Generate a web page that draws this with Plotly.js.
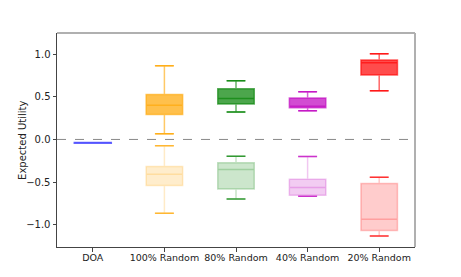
<!DOCTYPE html>
<html>
<head>
<meta charset="utf-8">
<script src="https://cdn.plot.ly/plotly-3.0.1.min.js"></script>
<style>html,body{margin:0;padding:0;background:#fff;}#chart{width:461px;height:277px;}</style>
</head>
<body>
<div id="chart"></div>
<script>
// ---- data ----
const categories = ["DOA", "100% Random", "80% Random", "40% Random", "20% Random"];
const doaStats = {lower: -0.042, q1: -0.041, median: -0.04, q3: -0.039, upper: -0.038};
const groups = ["100% Random", "80% Random", "40% Random", "20% Random"];
const colorsRGB = ["255,165,0", "0,128,0", "191,0,191", "255,0,0"];
// positive (upper) boxes
const posLower  = [0.066, 0.32, 0.335, 0.57];
const posQ1     = [0.293, 0.414, 0.37, 0.754];
const posMedian = [0.40, 0.48, 0.39, 0.898];
const posQ3     = [0.527, 0.593, 0.484, 0.93];
const posUpper  = [0.863, 0.687, 0.558, 1.003];
// negative (lower) boxes
const negLower  = [-0.864, -0.696, -0.665, -1.13];
const negQ1     = [-0.54, -0.579, -0.653, -1.067];
const negMedian = [-0.407, -0.352, -0.563, -0.934];
const negQ3     = [-0.317, -0.274, -0.465, -0.516];
const negUpper  = [-0.075, -0.196, -0.2, -0.442];
const refLine = 0;

const traces = [];
traces.push({
  type: "box", x: [categories[0]],
  lowerfence: [doaStats.lower], q1: [doaStats.q1], median: [doaStats.median],
  q3: [doaStats.q3], upperfence: [doaStats.upper],
  fillcolor: "rgba(0,0,255,0.7)", line: {color: "rgba(0,0,255,0.6)", width: 2},
  width: 0.51, whiskerwidth: 0.5, boxpoints: false
});
groups.forEach((g, i) => {
  traces.push({
    type: "box", x: [g],
    lowerfence: [posLower[i]], q1: [posQ1[i]], median: [posMedian[i]],
    q3: [posQ3[i]], upperfence: [posUpper[i]],
    fillcolor: "rgba(" + colorsRGB[i] + ",0.7)",
    line: {color: "rgba(" + colorsRGB[i] + ",0.6)", width: 1.5},
    width: 0.51, whiskerwidth: 0.5, boxpoints: false
  });
  traces.push({
    type: "box", x: [g],
    lowerfence: [negLower[i]], q1: [negQ1[i]], median: [negMedian[i]],
    q3: [negQ3[i]], upperfence: [negUpper[i]],
    fillcolor: "rgba(" + colorsRGB[i] + ",0.2)",
    line: {color: "rgba(" + colorsRGB[i] + ",0.22)", width: 1.5},
    width: 0.51, whiskerwidth: 0.5, boxpoints: false
  });
  // whisker caps (more opaque, like the reference)
  [[posLower, posUpper, 0.75], [negLower, negUpper, 0.75]].forEach(([lo, hi, a]) => {
    traces.push({
      type: "scatter", mode: "markers", x: [g, g], y: [lo[i], hi[i]],
      marker: {size: 1, color: "rgba(0,0,0,0)"},
      error_y: {type: "data", array: [0, 0], symmetric: true,
                color: "rgba(" + colorsRGB[i] + "," + a + ")", thickness: 1.5, width: 9.5}
    });
  });
});

const layout = {
  width: 461, height: 277,
  margin: {l: 57, r: 46, t: 33, b: 30, pad: 0},
  paper_bgcolor: "#fff", plot_bgcolor: "#fff",
  showlegend: false, boxmode: "overlay",
  font: {family: "DejaVu Sans", size: 9.5, color: "#222"},
  xaxis: {
    type: "category", categoryorder: "array", categoryarray: categories,
    range: [-0.5, 4.5], showgrid: false, zeroline: false,
    showline: true, linecolor: "#444", linewidth: 1,
    ticks: "outside", ticklen: 3.5, tickcolor: "#444", tickwidth: 1,
    tickangle: 0, automargin: false, ticklabelstandoff: -2,
    tickfont: {size: 9.5, color: "#222"}
  },
  yaxis: {
    range: [-1.259, 1.246], showgrid: false, zeroline: false,
    showline: true, linecolor: "#444", linewidth: 1,
    ticks: "outside", ticklen: 3.5, tickcolor: "#444", tickwidth: 1,
    tickvals: [-1, -0.5, 0, 0.5, 1], tickformat: ".1f", automargin: false,
    tickfont: {size: 10, color: "#222"}
  },
  annotations: [
    {text: "Expected Utility", xref: "paper", yref: "paper", x: -0.098, y: 0.5,
     xanchor: "center", yanchor: "middle", textangle: -90, showarrow: false,
     font: {size: 10, color: "#222"}}
  ],
  shapes: [
    {type: "line", xref: "paper", yref: "y", x0: 0, x1: 1, y0: refLine, y1: refLine,
     line: {color: "#888", width: 1, dash: "dash"}, layer: "above"},
    {type: "line", xref: "paper", yref: "paper", x0: 0, x1: 1, y0: 1, y1: 1,
     line: {color: "#b0b0b0", width: 2}},
    {type: "line", xref: "paper", yref: "paper", x0: 1, x1: 1, y0: 0, y1: 1,
     line: {color: "#b0b0b0", width: 2}}
  ]
};

Plotly.newPlot("chart", traces, layout, {displayModeBar: false, staticPlot: true});
</script>
</body>
</html>
